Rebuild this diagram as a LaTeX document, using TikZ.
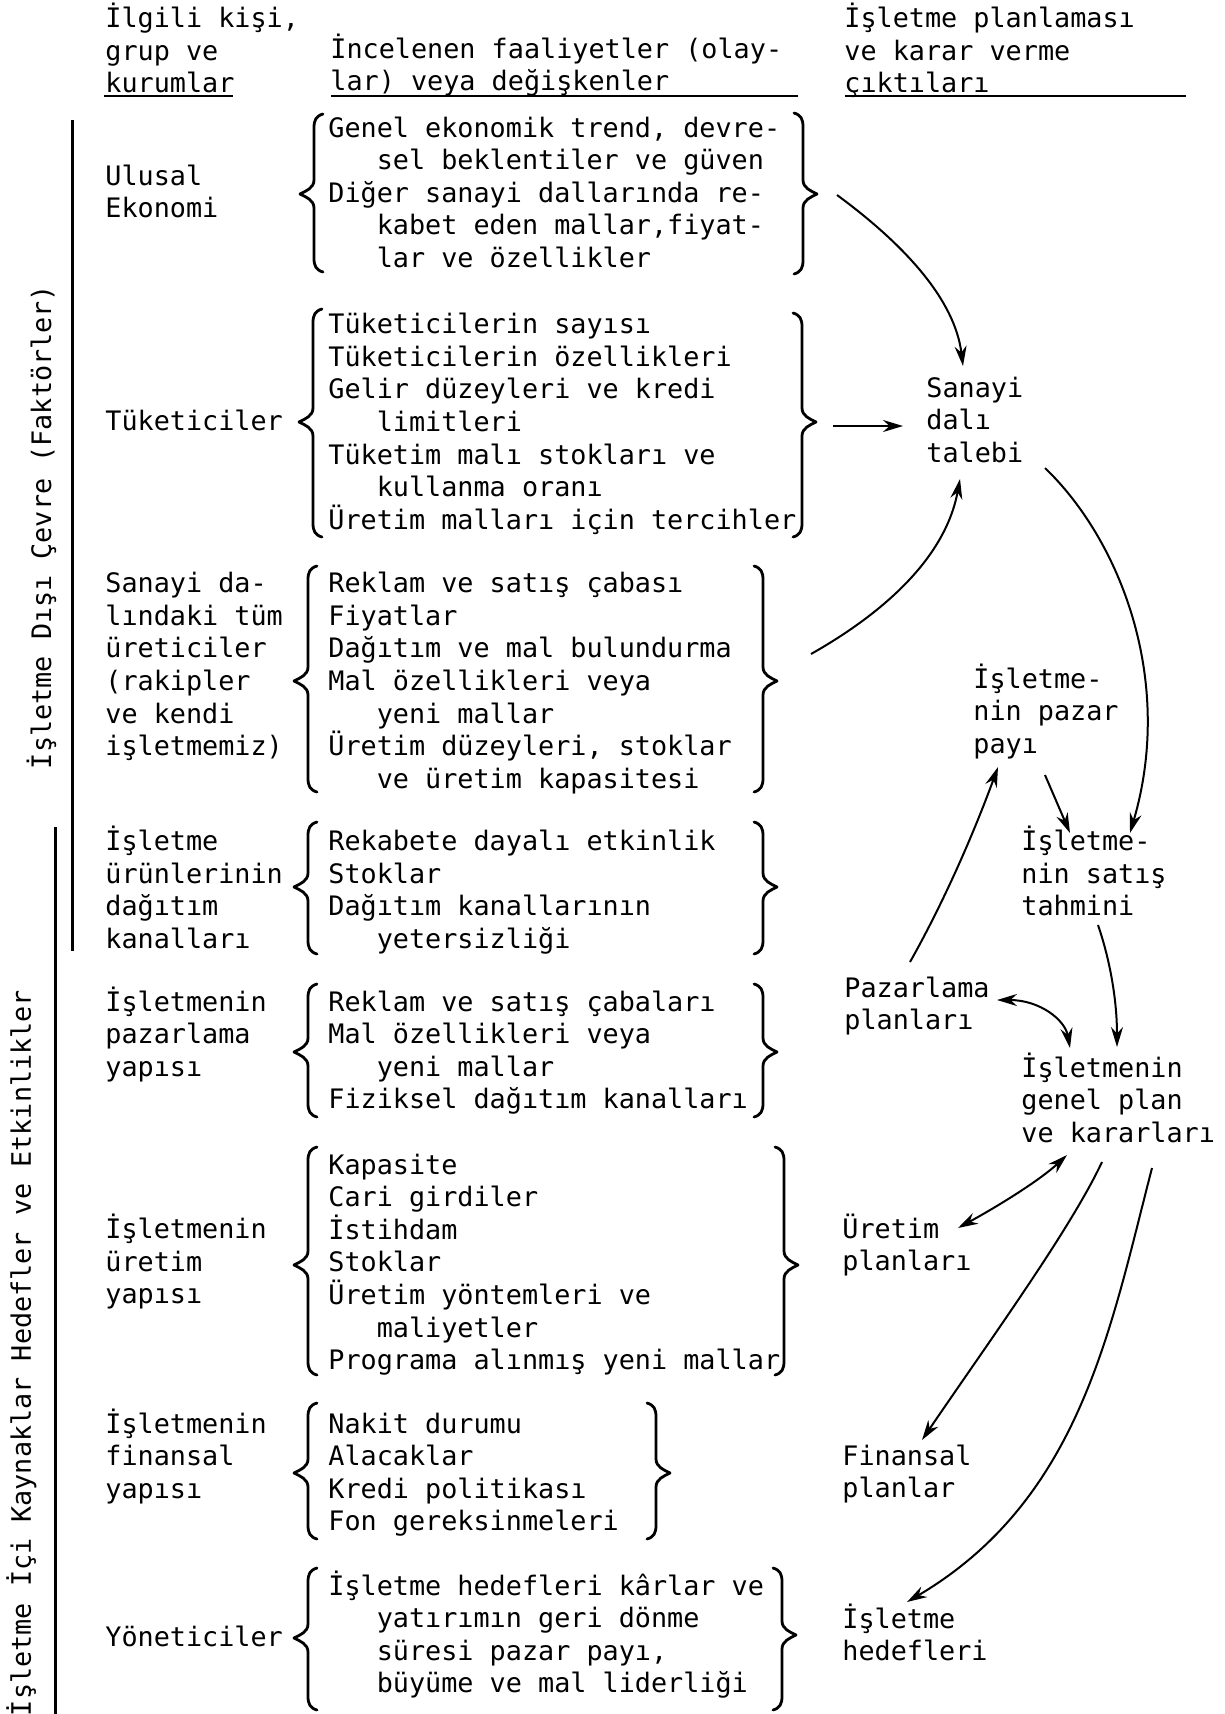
\documentclass[tikz,border=0pt]{standalone}
\usepackage{fontspec}
\newfontfamily\tw{DejaVu Sans Mono}
\usetikzlibrary{arrows.meta}

% monospaced face used throughout, fixed line pitch
\newcommand\txtfont{\tw\fontsize{13.4pt}{16.3pt}\selectfont\setlength{\lineskiplimit}{-20pt}}
% three character widths of indentation in the monospaced face
\newcommand\indt{\hphantom{000}}
% left-aligned stack of lines whose baseline is that of its first line
\newcommand\lns[1]{\vtop{\let\\\cr\halign{##\hfil\cr#1\crcr}}}

% left curly bracket: vertical x, top y, bottom y, tip y
\newcommand\leftbr[4]{%
  \draw[brc] (#1+9,#2) .. controls (#1+2,#2+2) and (#1,#2+6) .. (#1,#2+14)
    -- (#1,#4-14) .. controls (#1,#4-6) and (#1-8,#4-3) .. (#1-14,#4)
    .. controls (#1-8,#4+3) and (#1,#4+6) .. (#1,#4+14)
    -- (#1,#3-14) .. controls (#1,#3-6) and (#1+2,#3-2) .. (#1+9,#3);}
% right curly bracket: vertical x, top y, bottom y, tip y
\newcommand\rightbr[4]{%
  \draw[brc] (#1-9,#2) .. controls (#1-2,#2+2) and (#1,#2+6) .. (#1,#2+14)
    -- (#1,#4-14) .. controls (#1,#4-6) and (#1+8,#4-3) .. (#1+14,#4)
    .. controls (#1+8,#4+3) and (#1,#4+6) .. (#1,#4+14)
    -- (#1,#3-14) .. controls (#1,#3-6) and (#1-2,#3-2) .. (#1-9,#3);}

\tikzset{
  txt/.style={font=\txtfont, inner sep=0pt, anchor=base west},
  sidetxt/.style={font=\txtfont, inner sep=0pt, rotate=90, anchor=base},
  brc/.style={line width=1.4pt, line join=round, line cap=round},
  arr/.style={line width=1pt, -{Stealth[length=10pt,width=6pt]}},
  darr/.style={line width=1pt, {Stealth[length=10pt,width=6pt]}-{Stealth[length=10pt,width=6pt]}},
  rulel/.style={line width=1pt},
  sidel/.style={line width=1.5pt}
}

\begin{document}
\begin{tikzpicture}[x=0.5pt,y=-0.5pt]
\useasboundingbox (0,0) rectangle (1225,1714);
\fill[white] (0,0) rectangle (1225,1714);

% column headings
\node[txt] (hdr1) at (105,27.7) {\lns{İlgili kişi,\\grup ve\\kurumlar}};
\node[txt] (hdr2) at (330,58.3) {\lns{İncelenen faaliyetler (olay-\\lar) veya değişkenler}};
\node[txt] (hdr3) at (844,27.7) {\lns{İşletme planlaması\\ve karar verme\\çıktıları}};
\draw[rulel] (104,96) -- (233,96);
\draw[rulel] (331,96) -- (798,96);
\draw[rulel] (845,96) -- (1186,96);

% side groupings
\draw[sidel] (72,120) -- (72,951);
\draw[sidel] (55,827) -- (55,1714);
\node[sidetxt] (side1) at (51,527) {İşletme Dışı Çevre (Faktörler)};
\node[sidetxt] (side2) at (31,1353) {İşletme İçi Kaynaklar Hedefler ve Etkinlikler};

% row 1
\node[txt] (lab1) at (105,185) {\lns{Ulusal\\Ekonomi}};
\node[txt] (blk1) at (328,137) {\lns{Genel ekonomik trend, devre-\\\indt sel beklentiler ve güven\\Diğer sanayi dallarında re-\\\indt kabet eden mallar,fiyat-\\\indt lar ve özellikler}};
\leftbr{314}{114}{272}{194}
\rightbr{803}{113}{274}{194}

% row 2
\node[txt] (lab2) at (105,430) {Tüketiciler};
\node[txt] (blk2) at (328,333.7) {\lns{Tüketicilerin sayısı\\Tüketicilerin özellikleri\\Gelir düzeyleri ve kredi\\\indt limitleri\\Tüketim malı stokları ve\\\indt kullanma oranı\\Üretim malları için tercihler}};
\leftbr{313}{309}{537}{422}
\rightbr{802}{313}{537}{422}

% row 3
\node[txt] (lab3) at (105,592.6) {\lns{Sanayi da-\\lındaki tüm\\üreticiler\\(rakipler\\ve kendi\\işletmemiz)}};
\node[txt] (blk3) at (328,592.6) {\lns{Reklam ve satış çabası\\Fiyatlar\\Dağıtım ve mal bulundurma\\Mal özellikleri veya\\\indt yeni mallar\\Üretim düzeyleri, stoklar\\\indt ve üretim kapasitesi}};
\leftbr{308}{566}{792}{681}
\rightbr{763}{566}{792}{681}

% row 4
\node[txt] (lab4) at (105,850.5) {\lns{İşletme\\ürünlerinin\\dağıtım\\kanalları}};
\node[txt] (blk4) at (328,850.5) {\lns{Rekabete dayalı etkinlik\\Stoklar\\Dağıtım kanallarının\\\indt yetersizliği}};
\leftbr{308}{822}{954}{887}
\rightbr{763}{822}{954}{887}

% row 5
\node[txt] (lab5) at (105,1011) {\lns{İşletmenin\\pazarlama\\yapısı}};
\node[txt] (blk5) at (328,1011) {\lns{Reklam ve satış çabaları\\Mal özellikleri veya\\\indt yeni mallar\\Fiziksel dağıtım kanalları}};
\leftbr{308}{984}{1117}{1052}
\rightbr{763}{984}{1117}{1052}

% row 6
\node[txt] (lab6) at (105,1238.5) {\lns{İşletmenin\\üretim\\yapısı}};
\node[txt] (blk6) at (328,1174) {\lns{Kapasite\\Cari girdiler\\İstihdam\\Stoklar\\Üretim yöntemleri ve\\\indt maliyetler\\Programa alınmış yeni mallar}};
\leftbr{308}{1147}{1375}{1265}
\rightbr{784}{1147}{1375}{1265}

% row 7
\node[txt] (lab7) at (105,1433) {\lns{İşletmenin\\finansal\\yapısı}};
\node[txt] (blk7) at (328,1433) {\lns{Nakit durumu\\Alacaklar\\Kredi politikası\\Fon gereksinmeleri}};
\leftbr{308}{1403}{1539}{1473}
\rightbr{656}{1403}{1539}{1473}

% row 8
\node[txt] (lab8) at (105,1646) {Yöneticiler};
\node[txt] (blk8) at (328,1595) {\lns{İşletme hedefleri kârlar ve\\\indt yatırımın geri dönme\\\indt süresi pazar payı,\\\indt büyüme ve mal liderliği}};
\leftbr{308}{1568}{1710}{1638}
\rightbr{782}{1568}{1710}{1635}

% planning outputs
\node[txt] (talep)     at (926,397)   {\lns{Sanayi\\dalı\\talebi}};
\node[txt] (pazarpayi) at (973,688)   {\lns{İşletme-\\nin pazar\\payı}};
\node[txt] (tahmin)    at (1021,850.5){\lns{İşletme-\\nin satış\\tahmini}};
\node[txt] (pazarlama) at (844,997)   {\lns{Pazarlama\\planları}};
\node[txt] (genel)     at (1021,1077) {\lns{İşletmenin\\genel plan\\ve kararları}};
\node[txt] (uretim)    at (842,1238)  {\lns{Üretim\\planları}};
\node[txt] (finans)    at (842,1465)  {\lns{Finansal\\planlar}};
\node[txt] (hedef)     at (842,1628)  {\lns{İşletme\\hedefleri}};

% connector ends
\coordinate (blk1-out)  at (837,195);
\coordinate (talep-top) at (963,366);
\coordinate (blk2-out)  at (833,426);
\coordinate (talep-w)   at (903,426);
\coordinate (blk3-out)  at (811,654);
\coordinate (talep-bot) at (960,479);
\coordinate (talep-se)  at (1045,468);
\coordinate (tahmin-ne) at (1130,833);
\coordinate (pazarlama-n) at (910,962);
\coordinate (pazarpayi-s) at (998,767);
\coordinate (pazarpayi-se) at (1045,775);
\coordinate (tahmin-n)  at (1070,833);
\coordinate (tahmin-s)  at (1098,925);
\coordinate (genel-n)   at (1117,1047);
\coordinate (pazarlama-e) at (997,1000);
\coordinate (genel-nw)  at (1070,1048);
\coordinate (genel-sw)  at (1067,1155);
\coordinate (uretim-e)  at (958,1228);
\coordinate (genel-s)   at (1102,1162);
\coordinate (finans-n)  at (922,1440);
\coordinate (genel-se)  at (1152,1168);
\coordinate (hedef-n)   at (907,1602);

% connectors
\draw[arr] (blk1-out) .. controls (905,245) and (955,300) .. (talep-top);
\draw[arr] (blk2-out) -- (talep-w);
\draw[arr] (blk3-out) .. controls (880,615) and (945,560) .. (talep-bot);
\draw[arr] (talep-se) .. controls (1120,540) and (1175,680) .. (tahmin-ne);
\draw[arr] (pazarlama-n) .. controls (945,900) and (975,830) .. (pazarpayi-s);
\draw[arr] (pazarpayi-se) -- (tahmin-n);
\draw[arr] (tahmin-s) .. controls (1110,960) and (1117,1000) .. (genel-n);
\draw[darr] (pazarlama-e) .. controls (1040,1000) and (1065,1020) .. (genel-nw);
\draw[darr] (genel-sw) .. controls (1040,1180) and (1000,1205) .. (uretim-e);
\draw[arr] (genel-s) .. controls (1070,1230) and (990,1340) .. (finans-n);
\draw[arr] (genel-se) .. controls (1110,1330) and (1080,1500) .. (hedef-n);
\end{tikzpicture}
\end{document}
